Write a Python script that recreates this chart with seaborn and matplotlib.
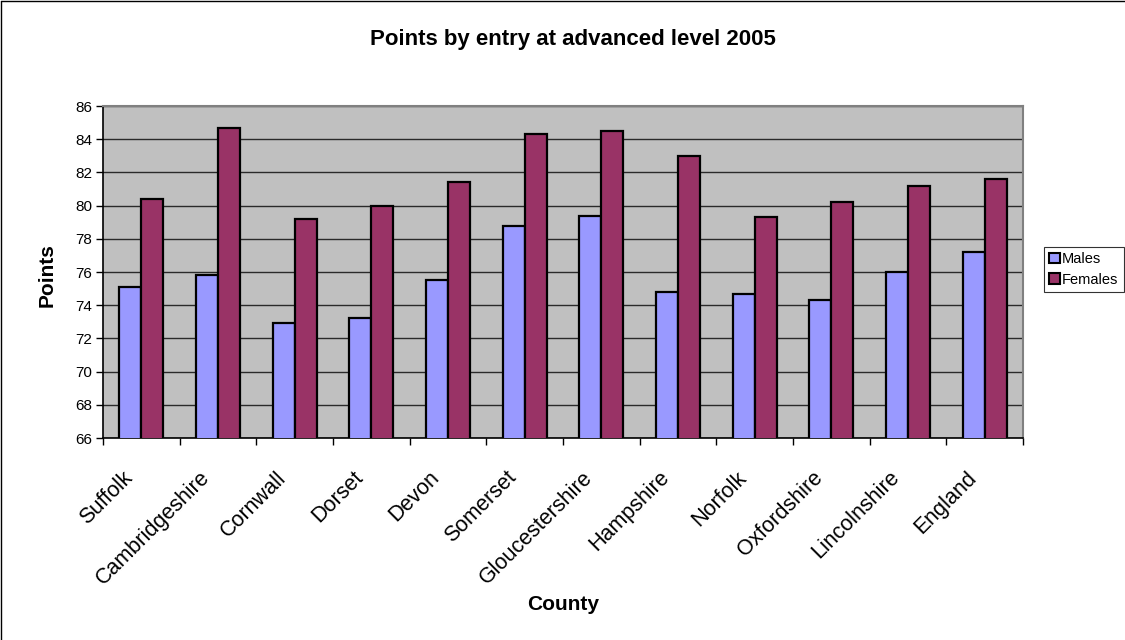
import numpy as np
import pandas as pd
import matplotlib
matplotlib.use("Agg")
import matplotlib.pyplot as plt
from matplotlib.transforms import ScaledTranslation
from matplotlib.patches import Rectangle
from matplotlib.lines import Line2D
import seaborn as sns

counties = ["Suffolk", "Cambridgeshire", "Cornwall", "Dorset", "Devon", "Somerset",
            "Gloucestershire", "Hampshire", "Norfolk", "Oxfordshire", "Lincolnshire", "England"]
males = [75.1, 75.8, 72.9, 73.2, 75.5, 78.8, 79.4, 74.8, 74.7, 74.3, 76.0, 77.2]
females = [80.4, 84.7, 79.2, 80.0, 81.4, 84.3, 84.5, 83.0, 79.3, 80.2, 81.2, 81.6]
series_names = ["Males", "Females"]
y_ticks = [66, 68, 70, 72, 74, 76, 78, 80, 82, 84, 86]

df = pd.DataFrame({
    "County": counties * 2,
    "Points": males + females,
    "Sex": [series_names[0]] * len(counties) + [series_names[1]] * len(counties),
})

sns.set_theme(style="white")
plt.rcParams["font.family"] = ["Liberation Sans", "DejaVu Sans"]
for key in ["text.color", "axes.labelcolor", "xtick.color", "ytick.color"]:
    plt.rcParams[key] = "black"

fig = plt.figure(figsize=(11.25, 6.4), dpi=100)
ax = fig.add_axes([103 / 1125, 1 - 438 / 640, 920 / 1125, 332 / 640])
ax.set_facecolor("#C0C0C0")

sns.barplot(data=df, x="County", y="Points", hue="Sex", order=counties,
            hue_order=series_names, palette=["#9999FF", "#993366"],
            width=0.575, gap=0, edgecolor="black", linewidth=1.6,
            saturation=1, ax=ax, legend=False, zorder=3)

ax.set_ylim(y_ticks[0], y_ticks[-1])
ax.set_xlim(-0.5, len(counties) - 0.5)
ax.set_yticks(y_ticks)
ax.yaxis.grid(True, color="#2a2a2a", linewidth=1.0, zorder=0)
ax.set_axisbelow(True)

# spines
for s in ["left", "bottom"]:
    ax.spines[s].set_color("black")
    ax.spines[s].set_linewidth(1.2)
for s in ["top", "right"]:
    ax.spines[s].set_color("#808080")
    ax.spines[s].set_linewidth(1.5)

# ticks
ax.tick_params(axis="y", which="major", direction="out", length=5, width=1,
               color="black", labelsize=11, pad=3, left=True)
ax.set_xticks(np.arange(len(counties)))
ax.set_xticks(np.arange(-0.5, len(counties), 1.0), minor=True)
ax.tick_params(axis="x", which="major", length=0, pad=21, labelsize=15.5)
ax.tick_params(axis="x", which="minor", direction="out", length=5, width=1,
               color="black", bottom=True)
ax.set_xticklabels(counties, rotation=45, ha="right", va="top",
                   rotation_mode="anchor")
offset = ScaledTranslation(-0.19, 0, fig.dpi_scale_trans)
for lbl in ax.get_xticklabels():
    lbl.set_transform(lbl.get_transform() + offset)

ax.set_xlabel("")
ax.set_ylabel("")

fig.text(573 / 1125, 1 - 39 / 640, "Points by entry at advanced level 2005",
         ha="center", va="center", fontsize=16, fontweight="bold")
fig.text(47 / 1125, 1 - 275 / 640, "Points", rotation=90,
         ha="center", va="center", fontsize=15, fontweight="bold")
fig.text(563 / 1125, 1 - 605 / 640, "County",
         ha="center", va="center", fontsize=15, fontweight="bold")

# legend
handles = [Rectangle((0, 0), 1, 1, facecolor=c, edgecolor="black", linewidth=1.5)
           for c in ["#9999FF", "#993366"]]
leg = fig.legend(handles, series_names, loc="upper left",
                 bbox_to_anchor=(1044 / 1125, 1 - 247 / 640),
                 frameon=True, fancybox=False, fontsize=10.5,
                 handlelength=0.75, handleheight=0.75, handletextpad=0.15,
                 borderpad=0.35, labelspacing=0.45, borderaxespad=0)
leg.get_frame().set_edgecolor("black")
leg.get_frame().set_linewidth(0.8)

# chart border (left and top edges)
fig.add_artist(Line2D([1 / 1125, 1 / 1125], [0, 1 - 1 / 640],
                      transform=fig.transFigure, color="black", linewidth=1.0))
fig.add_artist(Line2D([1 / 1125, 1], [1 - 1 / 640, 1 - 1 / 640],
                      transform=fig.transFigure, color="black", linewidth=1.0))

fig.savefig("out.png", dpi=100)
